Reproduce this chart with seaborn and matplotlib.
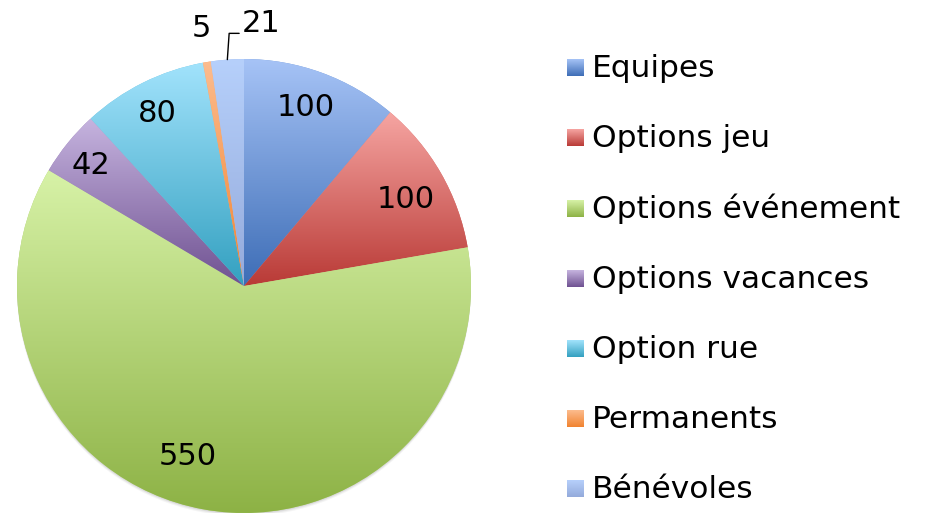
import numpy as np
import matplotlib
matplotlib.use("Agg")
import matplotlib.pyplot as plt
import seaborn as sns
from matplotlib.patches import Circle

# ---- data ----
categories = ["Equipes", "Options jeu", "Options événement", "Options vacances",
              "Option rue", "Permanents", "Bénévoles"]
values = [100, 100, 550, 42, 80, 5, 21]
value_labels = ["100", "100", "550", "42", "80", "5", "21"]
light_colors = ["#A6C3F6", "#F6A5A2", "#D7F2A7", "#C6B4DF", "#A2E3FC", "#FCBC8E", "#B6D0FB"]
dark_colors = ["#3D6DB6", "#B93A36", "#8DB245", "#6F5191", "#33A0C0", "#F18330", "#94AADB"]

# label placement (radius in pie radii, angular nudge in degrees)
label_r = [0.83, 0.81, 0.79, 0.86, 0.85, 1.15, None]
label_dtheta = [1.0, -1.7, -7.8, 0.8, 0.3, 0.0, 0.0]

sns.set_theme(style="white")
plt.rcParams['font.family'] = ['DejaVu Sans']
FS = 22
FS_LEG = 22.5

W, H = 929, 516
fig = plt.figure(figsize=(W / 100, H / 100), dpi=100)
fig.patch.set_facecolor("white")
cx, cy, R = 244, 286, 227
ax = fig.add_axes([(cx - R) / W, (H - cy - R) / H, 2 * R / W, 2 * R / H])

wedges, _ = ax.pie(values, startangle=90, counterclock=False, radius=1,
                   colors=[sns.blend_palette([l, d], 3)[1] for l, d in zip(light_colors, dark_colors)],
                   wedgeprops=dict(linewidth=0, antialiased=True))

# soft shadow under the pie (bottom only)
for off, a in [(0.014, 0.08), (0.009, 0.10), (0.005, 0.14)]:
    ax.add_patch(Circle((0, -off), 1.0, color="#7f7f7f", alpha=a, lw=0, zorder=0))

grad = np.linspace(0, 1, 256).reshape(-1, 1)
for w, c1, c2 in zip(wedges, light_colors, dark_colors):
    bb = w.get_path().get_extents(w.get_patch_transform())
    cmap = sns.blend_palette([c1, c2], as_cmap=True)
    im = ax.imshow(grad, cmap=cmap, extent=(bb.x0, bb.x1, bb.y0, bb.y1), origin="upper",
                   aspect="auto", interpolation="bilinear", zorder=2)
    im.set_clip_path(w)

ax.set_xlim(-1, 1)
ax.set_ylim(-1, 1)
ax.set_aspect("equal", adjustable="box")
ax.axis("off")

# data labels
for i, (w, lab) in enumerate(zip(wedges, value_labels)):
    mid = np.deg2rad((w.theta1 + w.theta2) / 2 + label_dtheta[i])
    if label_r[i] is None:
        # leader line from wedge edge
        x0, y0 = np.cos(mid), np.sin(mid)
        ax.plot([x0, x0 + 0.008, x0 + 0.052], [y0, 1.113, 1.113], color="black", lw=1.0,
                clip_on=False, zorder=5)
        ax.text(x0 + 0.064, 1.156, lab, ha="left", va="center", fontsize=FS, color="black",
                clip_on=False, zorder=5)
    else:
        r = label_r[i]
        ax.text(r * np.cos(mid), r * np.sin(mid), lab, ha="center", va="center",
                fontsize=FS, color="black", clip_on=False, zorder=5)

# legend drawn in pixel coordinates
lax = fig.add_axes([0, 0, 1, 1])
lax.set_xlim(0, W)
lax.set_ylim(H, 0)
lax.axis("off")
lax.patch.set_alpha(0)
for i, (cat, c1, c2) in enumerate(zip(categories, light_colors, dark_colors)):
    yc = 67.7 + 70.2 * i
    cmap = sns.blend_palette([c1, c2], as_cmap=True)
    lax.imshow(grad, cmap=cmap, extent=(567, 584, yc + 8.5, yc - 8.5), origin="upper",
               aspect="auto", interpolation="bilinear")
    lax.text(592, yc + 9.5, cat, ha="left", va="baseline", fontsize=FS_LEG, color="black")
lax.set_xlim(0, W)
lax.set_ylim(H, 0)

fig.savefig("out.png", dpi=100, facecolor="white")
